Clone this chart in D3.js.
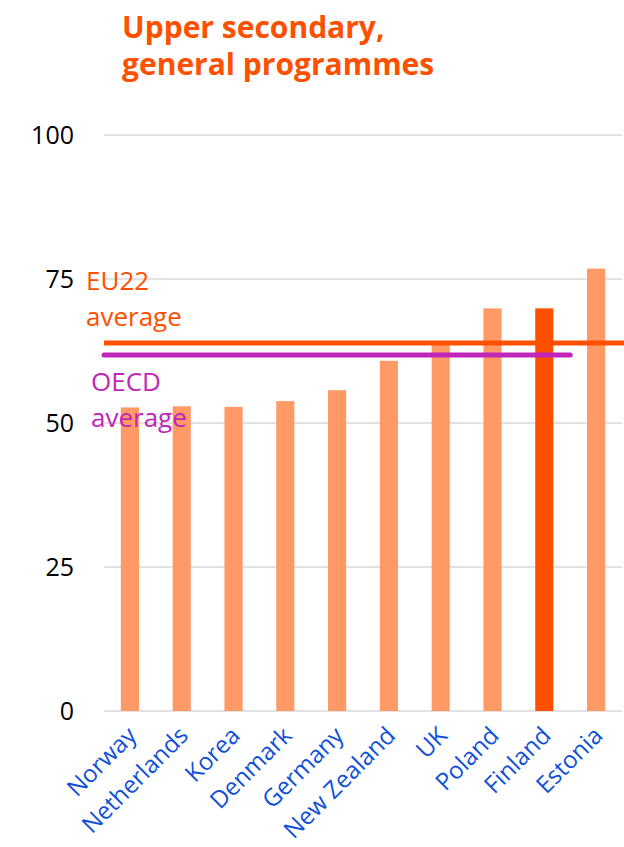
<!DOCTYPE html>
<html>
<head>
<meta charset="utf-8">
<script src="https://cdn.jsdelivr.net/npm/d3@7"></script>
<style>
  body { margin: 0; background: #fff; }
  text { font-family: "Open Sans", sans-serif; }
</style>
</head>
<body>
<div id="chart"></div>
<script>
// data
const countries = ["Norway", "Netherlands", "Korea", "Denmark", "Germany", "New Zealand", "UK", "Poland", "Finland", "Estonia"];
const values = [52.7, 52.9, 52.8, 53.8, 55.7, 60.8, 63.6, 69.9, 69.9, 76.8];
const highlight = "Finland";
const eu22Avg = 63.9;
const oecdAvg = 61.8;
const yTicks = [0, 25, 50, 75, 100];
const titleLines = ["Upper secondary,", "general programmes"];

const width = 624, height = 847;
const margin = { top: 135, right: 2, bottom: 136, left: 104 };

const svg = d3.select("#chart").append("svg")
  .attr("width", width)
  .attr("height", height);

const x = d3.scaleBand()
  .domain(countries)
  .range([margin.left, width - margin.right])
  .paddingInner(0.65)
  .paddingOuter(0.325);

const y = d3.scaleLinear()
  .domain([0, 100])
  .range([height - margin.bottom, margin.top]);

// gridlines
svg.append("g")
  .selectAll("line")
  .data(yTicks)
  .join("line")
  .attr("x1", margin.left)
  .attr("x2", width - margin.right)
  .attr("y1", d => y(d))
  .attr("y2", d => y(d))
  .attr("stroke", "#d9d9d9")
  .attr("stroke-width", 1.5);

// y tick labels
svg.append("g")
  .selectAll("text")
  .data(yTicks)
  .join("text")
  .attr("x", 74)
  .attr("y", d => y(d))
  .attr("dy", "0.35em")
  .attr("text-anchor", "end")
  .attr("font-size", 25)
  .attr("fill", "#000")
  .text(d => d);

// bars
svg.append("g")
  .selectAll("rect")
  .data(countries)
  .join("rect")
  .attr("x", d => x(d))
  .attr("width", x.bandwidth())
  .attr("y", (d, i) => y(values[i]))
  .attr("height", (d, i) => y(0) - y(values[i]))
  .attr("fill", d => d == highlight ? "#ff5000" : "#ff9966");

// average lines
const step = x.step();
svg.append("line")
  .attr("x1", margin.left)
  .attr("x2", width)
  .attr("y1", y(eu22Avg))
  .attr("y2", y(eu22Avg))
  .attr("stroke", "#ff5000")
  .attr("stroke-width", 5);

svg.append("line")
  .attr("x1", margin.left)
  .attr("x2", x("Finland") + x.bandwidth() / 2 + step / 2)
  .attr("y1", y(oecdAvg))
  .attr("y2", y(oecdAvg))
  .attr("stroke", "#c026b8")
  .attr("stroke-width", 5)
  .attr("stroke-linecap", "round");

// average labels
const avgLabels = [
  { lines: ["EU22", "average"], x: 86, y: 290, color: "#ff5000" },
  { lines: ["OECD", "average"], x: 91, y: 391, color: "#c026b8" }
];
avgLabels.forEach(l => {
  svg.append("text")
    .attr("x", l.x)
    .attr("y", l.y)
    .attr("font-size", 26)
    .attr("fill", l.color)
    .selectAll("tspan")
    .data(l.lines)
    .join("tspan")
    .attr("x", l.x)
    .attr("dy", (d, i) => i == 0 ? 0 : 36)
    .text(d => d);
});

// x labels
svg.append("g")
  .selectAll("text")
  .data(countries)
  .join("text")
  .attr("transform", d => "translate(" + (x(d) + x.bandwidth() / 2 + 8) + "," + (y(0) + 26) + ") rotate(-45)")
  .attr("text-anchor", "end")
  .attr("font-size", 24)
  .attr("fill", "#0f4fd9")
  .text(d => d);

// title
svg.append("text")
  .attr("x", 122)
  .attr("y", 38)
  .attr("font-size", 30)
  .attr("font-weight", "bold")
  .attr("fill", "#ff5000")
  .selectAll("tspan")
  .data(titleLines)
  .join("tspan")
  .attr("x", 122)
  .attr("dy", (d, i) => i == 0 ? 0 : 37)
  .text(d => d);
</script>
</body>
</html>
